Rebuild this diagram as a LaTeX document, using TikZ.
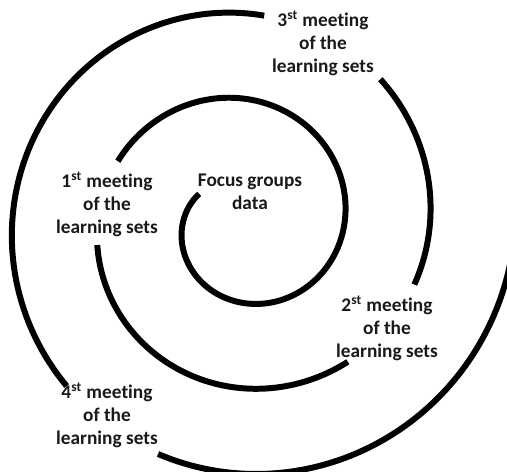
\documentclass[tikz,border=0pt]{standalone}
\usepackage{fontspec}
\setmainfont{Carlito}[Ligatures=NoCommon]
\usepackage{tikz}
\usetikzlibrary{calc}
\tikzset{spiral/.style={line width=3.4pt, line cap=butt},
  meet/.style={align=center, inner sep=0pt, text=black!90, font=\fontsize{11}{13.1}\selectfont\bfseries}}

\begin{document}
\begin{tikzpicture}[x=0.02cm, y=0.02cm]
\useasboundingbox (-242.5,-249) rectangle (264.5,222);
\clip (-242.5,-249) rectangle (264.5,222);
% the spiral, broken where the labels sit
\foreach \a/\b in {147/514, 549/667, 700/766, 804/943, 970/1080}{
\draw[spiral] plot[domain=\a:\b, samples=90, smooth] (\x:{16.8+0.2372*\x});
}
\node[meet] (focus) at (7.5,30) {Focus groups\\data};
\node[meet] (meet1) at (-135.5,18) {1\textsuperscript{st} meeting\\of the\\learning sets};
\node[meet] (meet2) at (144.5,-106) {2\textsuperscript{st} meeting\\of the\\learning sets};
\node[meet] (meet3) at (80.5,179) {3\textsuperscript{st} meeting\\of the\\learning sets};
\node[meet] (meet4) at (-135.5,-193) {4\textsuperscript{st} meeting\\of the\\learning sets};
\end{tikzpicture}
\end{document}
